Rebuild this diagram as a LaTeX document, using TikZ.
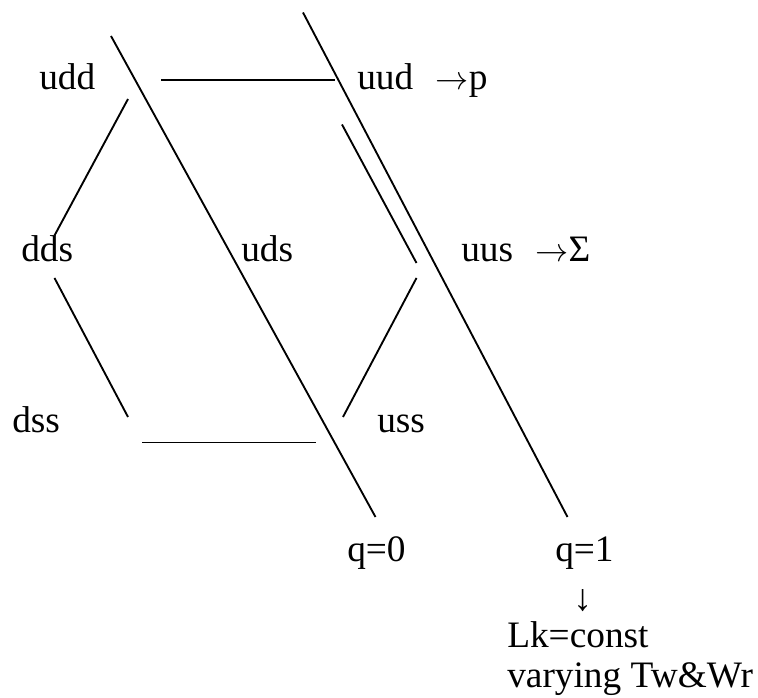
\documentclass[tikz,border=0pt]{standalone}
\usepackage{fontspec}
\setmainfont{Liberation Serif}
\usetikzlibrary{positioning}

\begin{document}
\begin{tikzpicture}[
  x=0.75pt, y=-0.75pt,
  lbl/.style={anchor=base west, inner sep=0pt, font=\fontsize{28}{30}\selectfont},
  edge/.style={line width=1.4pt, line cap=butt},
]
  \useasboundingbox (0,0) rectangle (758,698);

  % quark labels
  \node[lbl] (udd) at (39,89.5) {udd};
  \node[lbl] (uud) at (357,89.5) {uud\hspace{0.6em}$\rightarrow$p};
  \node[lbl] (dds) at (21,261.5) {dds};
  \node[lbl] (uds) at (241,261.5) {uds};
  \node[lbl] (uus) at (461,261.5) {uus\hspace{0.6em}$\rightarrow$Σ};
  \node[lbl] (dss) at (12,432.5) {dss};
  \node[lbl] (uss) at (377,432.5) {uss};
  \node[lbl] (q0) at (347,561.5) {q=0};
  \node[lbl] (q1) at (555,561.5) {q=1};
  \node[lbl] (down) at (573,611) {↓};
  \node[lbl] (lk) at (507,648) {Lk=const};
  \node[lbl] (twwr) at (507,688) {varying Tw\&Wr};

  % charge lines
  \coordinate (q0top) at (111,36);
  \coordinate (q0end) at (375.5,517);
  \coordinate (q1top) at (303,12.5);
  \coordinate (q1end) at (567.5,517);
  \draw[edge] (q0top) -- (q0end);
  \draw[edge] (q1top) -- (q1end);

  % hexagon edges
  \coordinate (top-l) at (161,80);
  \coordinate (top-r) at (335,80);
  \coordinate (ul-a) at (128,99);
  \coordinate (ul-b) at (54.5,235.5);
  \coordinate (ll-a) at (54.5,278);
  \coordinate (ll-b) at (128,417);
  \coordinate (bot-l) at (142,442.5);
  \coordinate (bot-r) at (316,442.5);
  \coordinate (lr-a) at (343,417);
  \coordinate (lr-b) at (416.5,278);
  \coordinate (ur-a) at (416.5,263);
  \coordinate (ur-b) at (342,124.5);
  \draw[edge] (top-l) -- (top-r);
  \draw[edge] (ul-a) -- (ul-b);
  \draw[edge] (ll-a) -- (ll-b);
  \draw[edge] (bot-l) -- (bot-r);
  \draw[edge] (lr-a) -- (lr-b);
  \draw[edge] (ur-a) -- (ur-b);
\end{tikzpicture}
\end{document}
